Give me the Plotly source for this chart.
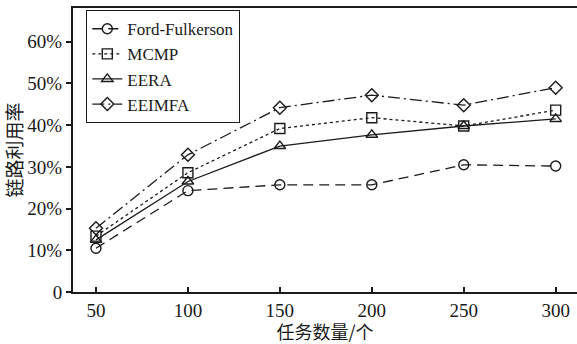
import plotly.graph_objects as go

# Number of tasks
tasks = [50, 100, 150, 200, 250, 300]

# Link utilization (%) per algorithm
ford_fulkerson = [10.5, 24.3, 25.7, 25.7, 30.5, 30.2]
mcmp = [13.4, 28.6, 39.2, 41.8, 39.8, 43.6]
eera = [12.5, 26.5, 35.0, 37.7, 39.8, 41.5]
eeimfa = [15.3, 32.9, 44.2, 47.2, 44.8, 49.0]

y_ticks = [0, 10, 20, 30, 40, 50, 60]
y_tick_text = ["0", "10%", "20%", "30%", "40%", "50%", "60%"]

series = [
    ("Ford-Fulkerson", ford_fulkerson, "10px,6px", "circle-open"),
    ("MCMP", mcmp, "3px,3px", "square-open"),
    ("EERA", eera, "solid", "triangle-up-open"),
    ("EEIMFA", eeimfa, "12px,4px,2px,4px", "diamond-open"),
]

serif = "Liberation Serif, Times New Roman, serif"
cjk = "Noto Sans CJK SC"

fig = go.Figure()
for name, vals, dash, sym in series:
    fig.add_trace(go.Scatter(
        x=tasks, y=vals, name=name, mode="lines+markers",
        line=dict(color="#1a1a1a", width=1.3, dash=dash),
        marker=dict(symbol=sym, size=10, color="#1a1a1a",
                    line=dict(color="#1a1a1a", width=1.4)),
    ))

fig.update_layout(
    width=577, height=344,
    margin=dict(l=73, r=0, t=8, b=52),
    paper_bgcolor="white", plot_bgcolor="white",
    font=dict(family=serif, size=18, color="#1a1a1a"),
    showlegend=True,
    legend=dict(
        x=0.026, y=0.993, xanchor="left", yanchor="top",
        bordercolor="#1a1a1a", borderwidth=1.2, bgcolor="white",
        font=dict(family=serif, size=17, color="#1a1a1a"),
        tracegroupgap=0, itemwidth=30,
    ),
    xaxis=dict(
        range=[37.5, 311.6], tickvals=tasks,
        ticks="inside", ticklen=5, tickwidth=1.5, tickcolor="#1a1a1a",
        showline=True, linecolor="#1a1a1a", linewidth=2, mirror=True,
        showgrid=False, zeroline=False,
        tickfont=dict(family=serif, size=19),
        title=dict(text="任务数量/个", font=dict(family=cjk, size=18), standoff=6),
    ),
    yaxis=dict(
        range=[0, 68.1], tickvals=y_ticks, ticktext=y_tick_text,
        ticks="outside", ticklen=5, tickwidth=1.5, tickcolor="#1a1a1a",
        showline=True, linecolor="#1a1a1a", linewidth=2,
        showgrid=False, zeroline=False,
        tickfont=dict(family=serif, size=19),
        title=dict(text="链路利用率", font=dict(family=cjk, size=19), standoff=2),
    ),
)

fig.write_html("out.html")
